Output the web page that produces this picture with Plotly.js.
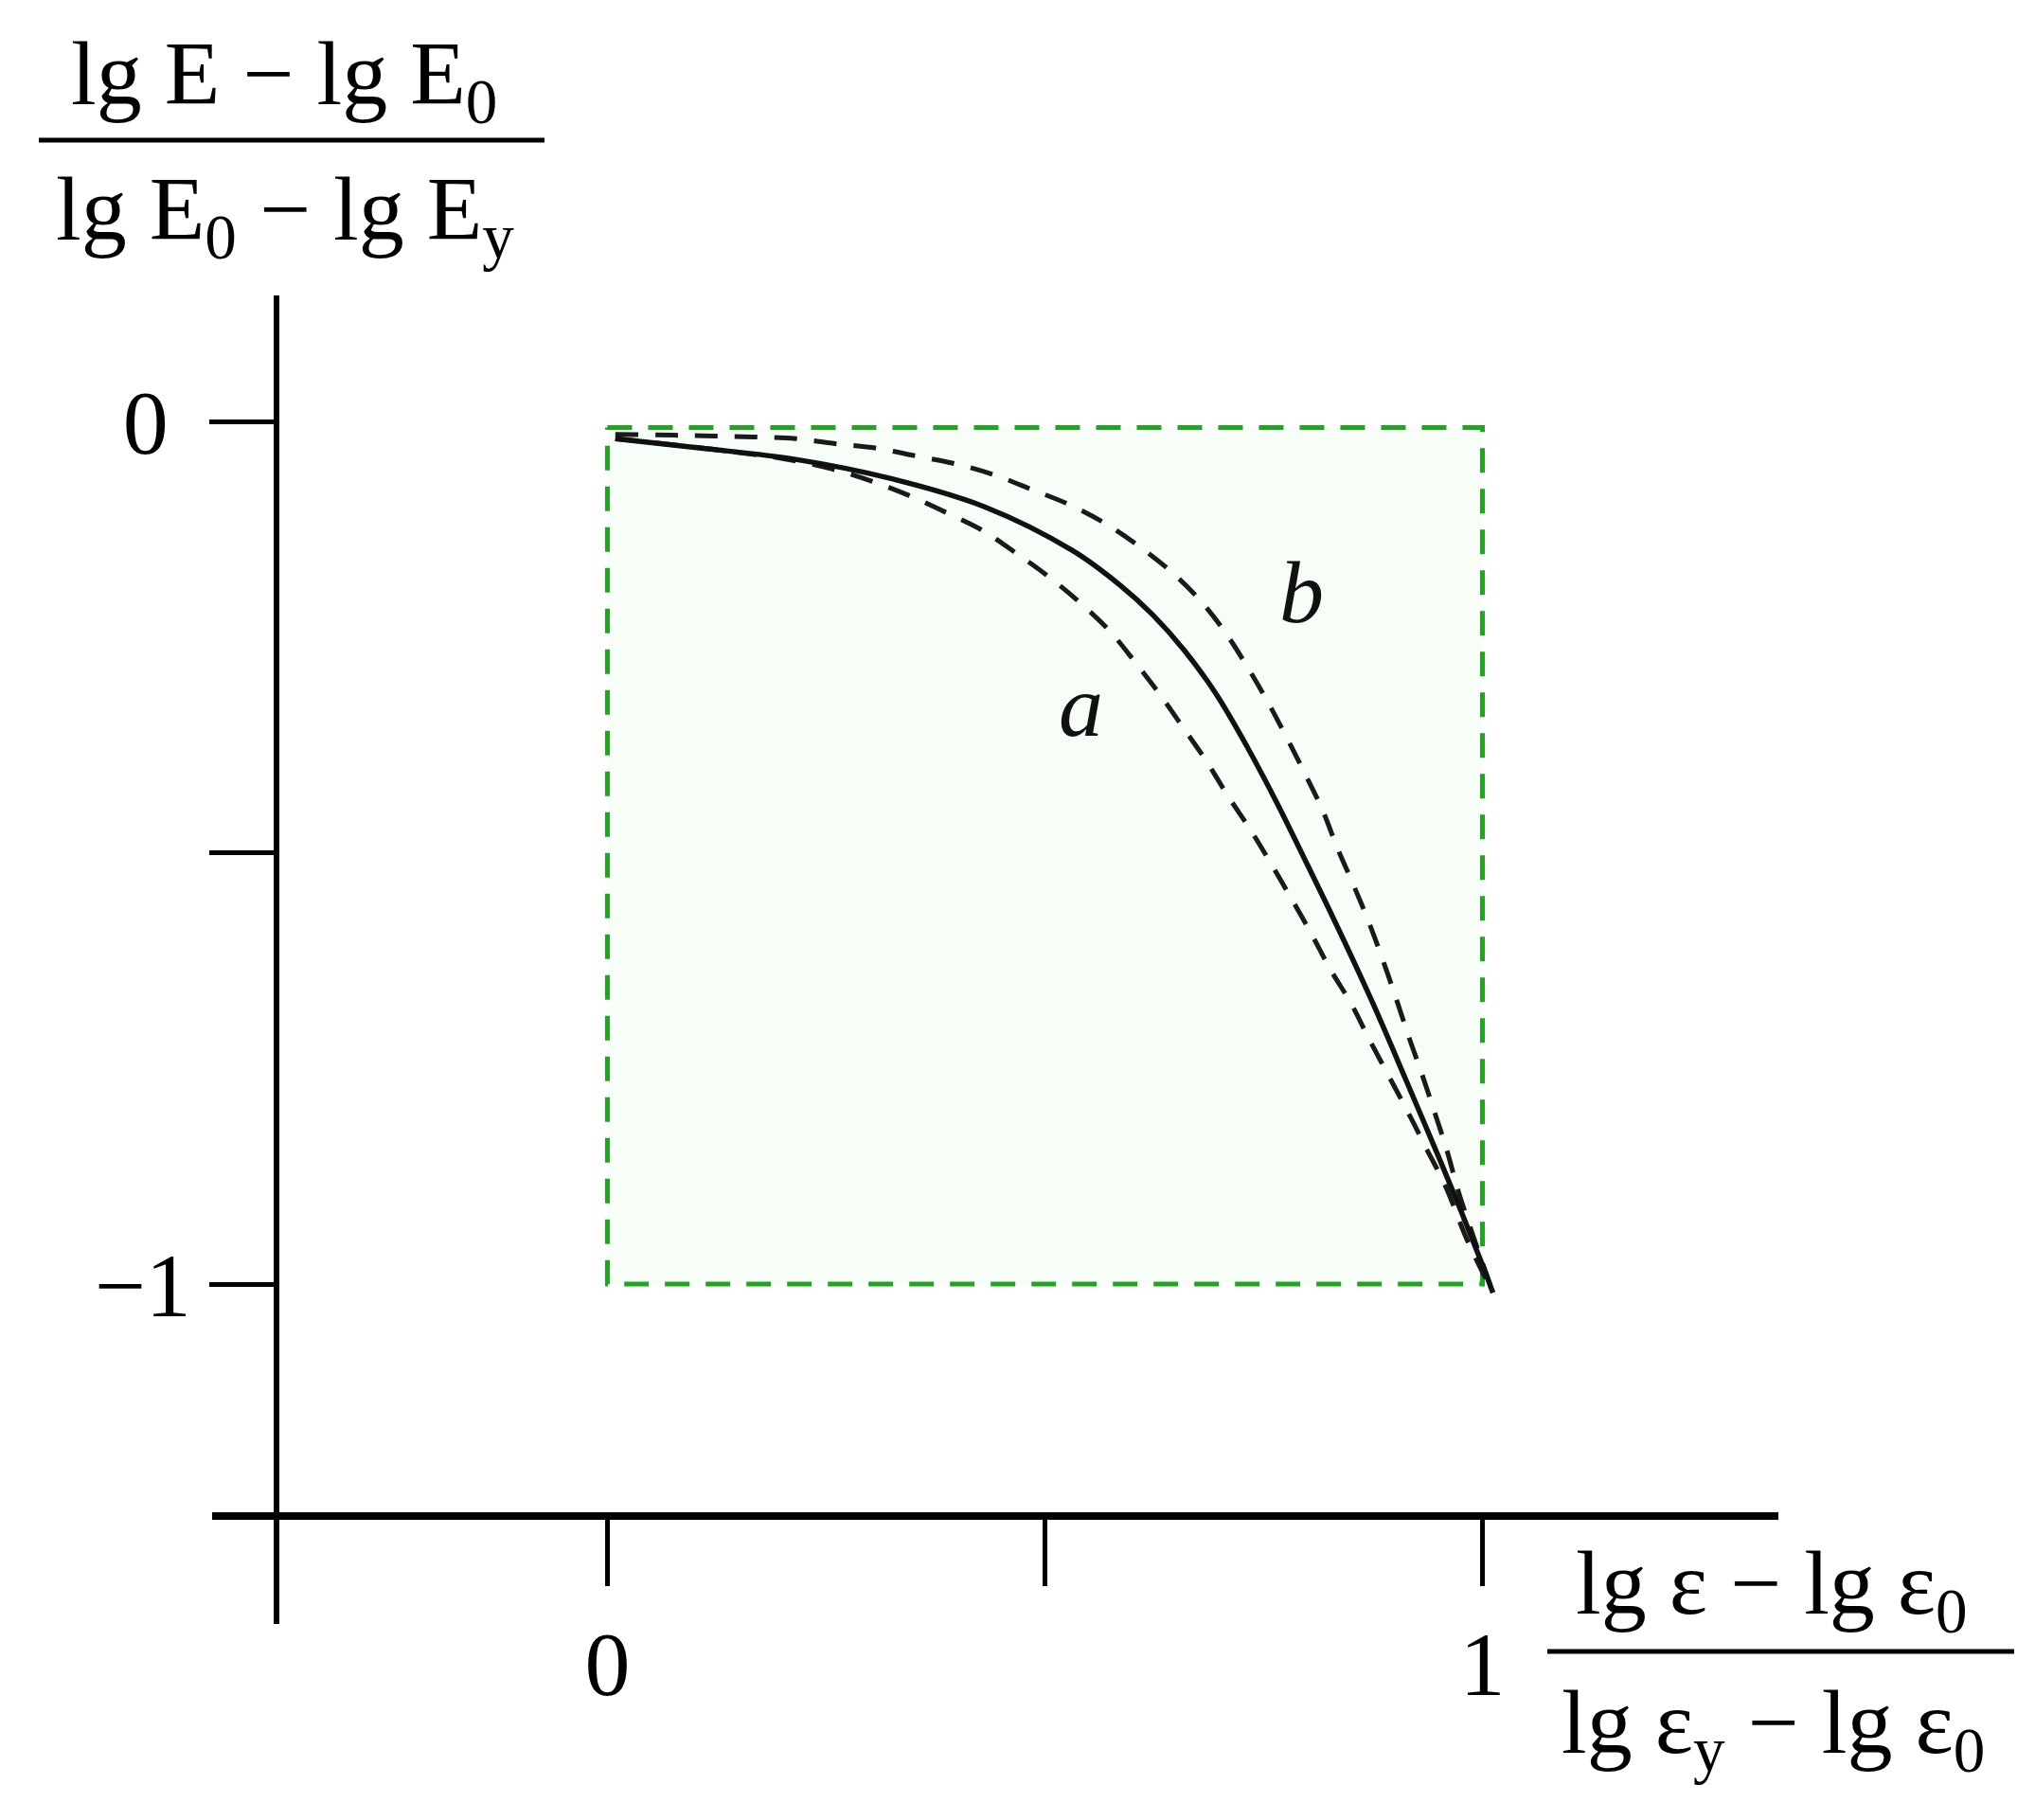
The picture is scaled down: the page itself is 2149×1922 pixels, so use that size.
<!DOCTYPE html>
<html>
<head>
<meta charset="utf-8">
<script src="https://cdn.plot.ly/plotly-3.0.1.min.js"></script>
<style>
  html, body { margin: 0; padding: 0; background: #ffffff; }
  #chart { width: 2149px; height: 1922px; }
</style>
</head>
<body>
<div id="chart"></div>
<script>
// ---------------- data ----------------
// normalised strain  (lg ε − lg ε0)/(lg εy − lg ε0)
const solidX = [0.009, 0.107, 0.215, 0.323, 0.431, 0.532, 0.586, 0.623, 0.659, 0.695, 0.731, 0.765, 0.800, 0.839, 0.875, 0.912, 0.943, 0.973, 0.997, 1.012];
// normalised modulus (lg E − lg E0)/(lg E0 − lg Ey)
const solidY = [-0.020, -0.031, -0.044, -0.066, -0.099, -0.150, -0.190, -0.224, -0.265, -0.315, -0.377, -0.442, -0.514, -0.596, -0.675, -0.762, -0.836, -0.909, -0.970, -1.010];

// dashed bound "a" (lower)
const curveAX = [0.009, 0.100, 0.200, 0.256, 0.301, 0.345, 0.392, 0.428, 0.466, 0.503, 0.540, 0.574, 0.603, 0.631, 0.658, 0.684, 0.709, 0.734, 0.758, 0.781, 0.805, 0.826, 0.850, 0.871, 0.893, 0.915, 0.936, 0.958, 0.983, 1.012];
const curveAY = [-0.020, -0.030, -0.043, -0.055, -0.069, -0.086, -0.108, -0.126, -0.152, -0.179, -0.210, -0.243, -0.279, -0.316, -0.355, -0.393, -0.434, -0.472, -0.512, -0.552, -0.595, -0.635, -0.675, -0.717, -0.759, -0.801, -0.843, -0.887, -0.950, -1.010];

// dashed bound "b" (upper)
const curveBX = [0.009, 0.076, 0.123, 0.168, 0.215, 0.262, 0.307, 0.352, 0.397, 0.442, 0.485, 0.529, 0.570, 0.608, 0.644, 0.677, 0.705, 0.731, 0.754, 0.776, 0.797, 0.817, 0.834, 0.852, 0.870, 0.886, 0.901, 0.916, 0.931, 0.946, 0.960, 0.972, 0.990, 1.012];
const curveBY = [-0.015, -0.016, -0.017, -0.018, -0.020, -0.026, -0.031, -0.040, -0.049, -0.062, -0.079, -0.097, -0.119, -0.145, -0.174, -0.207, -0.243, -0.284, -0.324, -0.366, -0.408, -0.450, -0.494, -0.536, -0.580, -0.624, -0.668, -0.714, -0.757, -0.803, -0.847, -0.891, -0.946, -1.010];

// green dashed unit box
const boxX = [0, 1, 1, 0, 0];
const boxY = [-0.007, -0.007, -1, -1, -0.007];

// ticks
const xTickVals = [0, 1];
const xTickText = ['0', '1'];
const xMinorTicks = [0.5];
const yTickVals = [0, -1];
const yTickText = ['0\u00a0', '\u22121'];
const yMinorTicks = [-0.5];

// labels
const curveLabels = ['a', 'b'];
const labelX = [0.5406, 0.7938];
const labelY = [-0.329, -0.198];

const yTitleNum = 'lg E \u2212 lg E<sub>0</sub>';
const yTitleDen = 'lg E<sub>0</sub> \u2212 lg E<sub>y</sub>';
const xTitleNum = 'lg \u03b5 \u2212 lg \u03b5<sub>0</sub>';
const xTitleDen = 'lg \u03b5<sub>y</sub> \u2212 lg \u03b5<sub>0</sub>';

// ---------------- layout helpers (pixel -> paper) ----------------
const W = 2149, H = 1922;
const L = 224, R = 271, T = 312, B = 207;
const PW = W - L - R, PH = H - T - B;
const px = v => (v - L) / PW;
const py = v => (H - B - v) / PH;

const FONT = 'Liberation Serif, Times New Roman, serif';

const traces = [
  {
    x: boxX, y: boxY, type: 'scatter', mode: 'lines',
    fill: 'toself', fillcolor: '#f7fdf7',
    line: { color: '#1fa61f', width: 5, dash: '26px,17px' },
    hoverinfo: 'skip', showlegend: false
  },
  {
    x: curveAX, y: curveAY, type: 'scatter', mode: 'lines',
    line: { color: '#1a1a1a', width: 5, dash: '24px,18px', shape: 'spline', smoothing: 1 },
    showlegend: false
  },
  {
    x: curveBX, y: curveBY, type: 'scatter', mode: 'lines',
    line: { color: '#1a1a1a', width: 5, dash: '24px,18px', shape: 'spline', smoothing: 1 },
    showlegend: false
  },
  {
    x: solidX, y: solidY, type: 'scatter', mode: 'lines',
    line: { color: '#111111', width: 5.5, shape: 'spline', smoothing: 1 },
    showlegend: false
  }
];

const annotations = [];
curveLabels.forEach((t, i) => {
  annotations.push({
    x: labelX[i], y: labelY[i], xref: 'x', yref: 'y',
    text: '<i>' + t + '</i>', showarrow: false,
    xanchor: 'center', yanchor: 'middle',
    font: { family: FONT, size: 94, color: '#111111' }
  });
});
const titleFont = { family: FONT, size: 96, color: '#000000' };
annotations.push(
  { x: px(300), y: py(84), xref: 'paper', yref: 'paper', text: yTitleNum, showarrow: false, xanchor: 'center', yanchor: 'middle', font: titleFont },
  { x: px(301), y: py(227), xref: 'paper', yref: 'paper', text: yTitleDen, showarrow: false, xanchor: 'center', yanchor: 'middle', font: titleFont },
  { x: px(1871), y: py(1678), xref: 'paper', yref: 'paper', text: xTitleNum, showarrow: false, xanchor: 'center', yanchor: 'middle', font: titleFont },
  { x: px(1872), y: py(1825), xref: 'paper', yref: 'paper', text: xTitleDen, showarrow: false, xanchor: 'center', yanchor: 'middle', font: titleFont }
);

const shapes = [
  { type: 'line', xref: 'paper', yref: 'paper', x0: px(41), x1: px(575), y0: py(148), y1: py(148), line: { color: '#000000', width: 5 } },
  { type: 'line', xref: 'paper', yref: 'paper', x0: px(1634), x1: px(2127), y0: py(1744), y1: py(1744), line: { color: '#000000', width: 5 } }
];

const layout = {
  width: W, height: H,
  margin: { l: L, r: R, t: T, b: B, pad: 0 },
  paper_bgcolor: '#ffffff', plot_bgcolor: '#ffffff',
  showlegend: false,
  xaxis: {
    range: [-0.4518, 1.3382], anchor: 'free', position: (1715 - 1601) / PH,
    showline: true, linecolor: '#000000', linewidth: 8,
    ticks: 'outside', ticklen: 70, tickwidth: 5, tickcolor: '#000000',
    tickmode: 'array', tickvals: xTickVals, ticktext: xTickText,
    minor: { tickmode: 'array', tickvals: xMinorTicks, ticks: 'outside', ticklen: 70, tickwidth: 5, tickcolor: '#000000', showgrid: false },
    tickfont: { family: FONT, size: 96, color: '#000000' },
    showgrid: false, zeroline: false, automargin: false, fixedrange: true
  },
  yaxis: {
    range: [-1.394, 0.146], anchor: 'free', position: (292 - L) / PW,
    showline: true, linecolor: '#000000', linewidth: 6,
    ticks: 'outside', ticklen: 68, tickwidth: 5, tickcolor: '#000000',
    tickmode: 'array', tickvals: yTickVals, ticktext: yTickText,
    minor: { tickmode: 'array', tickvals: yMinorTicks, ticks: 'outside', ticklen: 68, tickwidth: 5, tickcolor: '#000000', showgrid: false },
    tickfont: { family: FONT, size: 96, color: '#000000' },
    showgrid: false, zeroline: false, automargin: false, fixedrange: true
  },
  annotations: annotations,
  shapes: shapes
};

Plotly.newPlot('chart', traces, layout, { staticPlot: true, displayModeBar: false });
</script>
</body>
</html>
